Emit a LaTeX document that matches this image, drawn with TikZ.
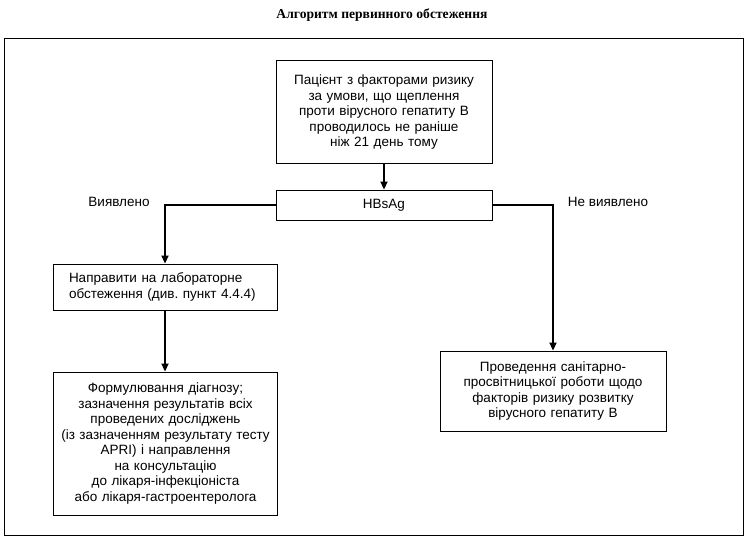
\documentclass[tikz,border=0pt]{standalone}
\usepackage{fontspec}
\setmainfont{Liberation Sans}
\newfontfamily\titlefont{Liberation Serif}
\usetikzlibrary{arrows.meta}
\frenchspacing
\tikzset{
  box/.style={draw, line width=0.9pt, inner sep=4pt, align=center, font=\fontsize{13.5}{15.5}\selectfont},
  conn/.style={line width=1.8pt, -{Triangle[length=8pt,width=7pt]}},
  lbl/.style={font=\fontsize{13.5}{15}\selectfont, inner sep=0pt}
}
\begin{document}
\frenchspacing
\begin{tikzpicture}[x=1pt,y=-1pt]
\useasboundingbox (0,0) rectangle (748,544);
\node[inner sep=0pt, font=\titlefont\bfseries\fontsize{13.6}{15}\selectfont] (title) at (382,15) {Алгоритм первинного обстеження};
\draw[line width=0.9pt] (4,38.5) rectangle (743.5,535.5);
\node[box, minimum height=103, text width=208] (top) at (384,112.3) {Пацієнт з факторами ризику\\за умови, що щеплення\\проти вірусного гепатиту В\\проводилось не раніше\\ніж 21 день тому};
\node[box, minimum height=30, text width=208] (hbs) at (384,205) {HBsAg};
\node[box, minimum height=46, text width=200, inner xsep=12pt, align=left] (napr) at (165,287) {\hspace*{4pt}Направити на лабораторне\\\hspace*{4pt}обстеження (див. пункт 4.4.4)};
\node[box, minimum height=143, text width=216] (form) at (165.5,443.5) {Формулювання діагнозу;\\зазначення результатів всіх\\проведених досліджень\\(із зазначенням результату тесту\\APRI) і направлення\\на консультацію\\до лікаря-інфекціоніста\\або лікаря-гастроентеролога};
\node[box, minimum height=80, text width=218] (right) at (553,391) {Проведення санітарно-\\просвітницької роботи щодо\\факторів ризику розвитку\\вірусного гепатиту В};
\node[lbl] (yes) at (119,202) {Виявлено};
\node[lbl] (no) at (608,202) {Не виявлено};
\draw[conn] (top.south) -- (hbs.north);
\draw[conn] (hbs.west) -| (napr.north);
\draw[conn] (hbs.east) -| (right.north);
\draw[conn] (napr.south) -- (napr.south |- form.north);
\end{tikzpicture}
\end{document}
